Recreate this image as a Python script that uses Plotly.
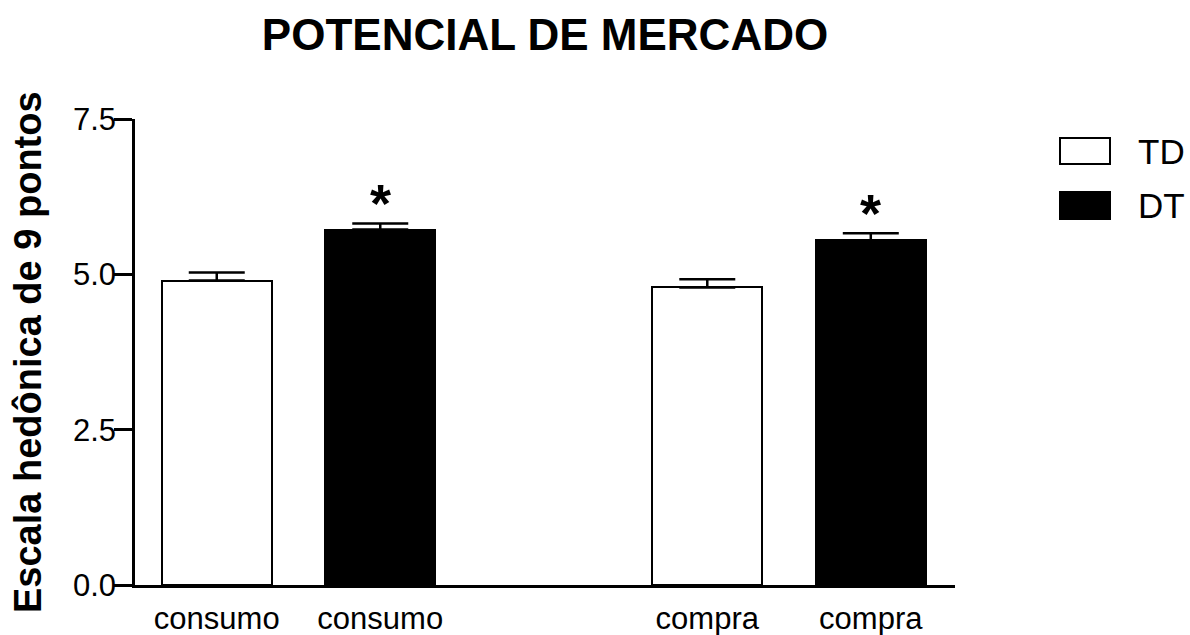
import plotly.graph_objects as go

# Data: mean hedonic scores (9-point scale) with SEM, two products per question
categories = ["consumo", "consumo", "compra", "compra"]
groups = ["TD", "DT", "TD", "DT"]
means = [4.90, 5.72, 4.79, 5.55]
sem = [0.13, 0.10, 0.13, 0.11]
significant = [False, True, False, True]

# Bar slot positions along the x axis (gap between the two questions)
xpos = [0.5, 1.5, 3.5, 4.5]
fill = {"TD": "white", "DT": "black"}

FONT = "Liberation Sans, Arial, Helvetica, sans-serif"

fig = go.Figure()
for x, g, m, e in zip(xpos, groups, means, sem):
    fig.add_trace(go.Bar(
        x=[x], y=[m], width=0.673,
        marker=dict(color=fill[g], line=dict(color="black", width=2)),
        error_y=dict(type="data", array=[e], arrayminus=[0], symmetric=False,
                     color="black", thickness=2.5, width=28),
        showlegend=False, name=g,
    ))

# Significance markers above the DT bars
for x, m, e, s in zip(xpos, means, sem, significant):
    if s:
        fig.add_annotation(x=x, y=m + e, text="<b>*</b>", showarrow=False,
                           yanchor="bottom", yshift=-12,
                           font=dict(family=FONT, size=54, color="black"))

# Legend drawn as boxes + labels to the right of the plot
legend_items = [("TD", "white", 138, 164), ("DT", "black", 192, 219)]
W, H = 1190, 635
L, R, T, B = 135, 235, 119, 50
pw, ph = W - L - R, H - T - B

def px_to_paper_x(px):
    return (px - L) / pw

def px_to_paper_y(py):
    return 1 - (py - T) / ph

for name, color, y0, y1 in legend_items:
    fig.add_shape(type="rect", xref="paper", yref="paper",
                  x0=px_to_paper_x(1060), x1=px_to_paper_x(1110),
                  y0=px_to_paper_y(y1), y1=px_to_paper_y(y0),
                  fillcolor=color, line=dict(color="black", width=2))
    fig.add_annotation(xref="paper", yref="paper",
                       x=px_to_paper_x(1136), y=px_to_paper_y((y0 + y1) / 2),
                       xanchor="left", yanchor="middle", text=name, showarrow=False,
                       font=dict(family=FONT, size=35, color="black"))

# Y axis title
fig.add_annotation(xref="paper", yref="paper", x=px_to_paper_x(28), y=0.5,
                   xanchor="center", yanchor="middle", textangle=-90,
                   text="<b>Escala hedônica de 9 pontos</b>", showarrow=False,
                   font=dict(family=FONT, size=38, color="black"))

fig.update_layout(
    width=W, height=H,
    margin=dict(l=L, r=R, t=T, b=B, pad=0, autoexpand=False),
    paper_bgcolor="white", plot_bgcolor="white",
    title=dict(text="<b>POTENCIAL DE MERCADO</b>", x=545 / W, xanchor="center",
               y=1 - 35 / H, yanchor="middle",
               font=dict(family=FONT, size=44, color="black")),
    font=dict(family=FONT, color="black"),
    bargap=0,
)
fig.update_xaxes(
    range=[0, 5.015], tickvals=xpos, ticktext=categories,
    showline=True, linecolor="black", linewidth=2.5,
    ticks="", showgrid=False, zeroline=False, automargin=False,
    ticklabelstandoff=4,
    tickfont=dict(family=FONT, size=31, color="black"),
)
fig.update_yaxes(
    range=[0, 7.5], tickvals=[0, 2.5, 5.0, 7.5], tickformat=".1f",
    showline=True, linecolor="black", linewidth=2.5,
    ticks="outside", ticklen=18, tickwidth=2.5, tickcolor="black",
    showgrid=False, zeroline=False, automargin=False,
    ticklabelstandoff=-8,
    tickfont=dict(family=FONT, size=31, color="black"),
)

fig.write_html("out.html")
